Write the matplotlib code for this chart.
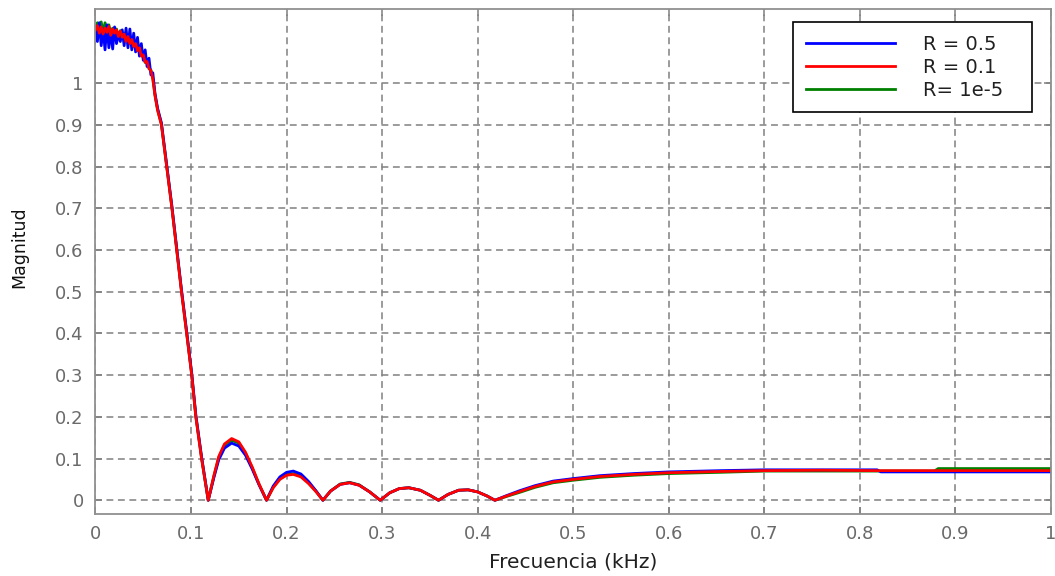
import matplotlib
matplotlib.use('Agg')
import matplotlib.pyplot as plt
from matplotlib.ticker import FuncFormatter

plt.rcParams['font.family'] = ['DejaVu Sans']

# frecuencias (kHz) - zona ruidosa + resto de la curva
freq_lo = [0.000, 0.002, 0.004, 0.006, 0.008, 0.010, 0.012, 0.014, 0.016, 0.018,
           0.020, 0.022, 0.024, 0.026, 0.028, 0.030, 0.032, 0.034, 0.036, 0.038,
           0.040, 0.042, 0.044, 0.046, 0.048, 0.050, 0.052, 0.054, 0.056, 0.058, 0.060]
freq_hi = [0.0623, 0.065, 0.069, 0.0745, 0.080, 0.085, 0.090, 0.0954, 0.1007, 0.105,
           0.111, 0.118, 0.124, 0.129, 0.135, 0.1425, 0.150, 0.157, 0.164, 0.171,
           0.179, 0.186, 0.193, 0.200, 0.207, 0.215, 0.223, 0.231, 0.238, 0.246,
           0.256, 0.266, 0.276, 0.287, 0.298, 0.308, 0.318, 0.328, 0.340, 0.350,
           0.359, 0.369, 0.380, 0.390, 0.400, 0.410, 0.418, 0.430, 0.444, 0.460,
           0.479, 0.500, 0.528, 0.563, 0.600, 0.654, 0.700, 0.760, 0.818, 0.822,
           0.878, 0.882, 0.940, 1.000]

# R = 0.5
mag_r05 = [1.135, 1.100, 1.145, 1.090, 1.130, 1.080, 1.140, 1.085, 1.125, 1.082,
           1.135, 1.095, 1.120, 1.100, 1.128, 1.090, 1.132, 1.085, 1.130, 1.080,
           1.120, 1.075, 1.110, 1.065, 1.095, 1.055, 1.080, 1.040, 1.060, 1.020, 1.025,
           0.975, 0.940, 0.905, 0.805, 0.705, 0.605, 0.505, 0.405, 0.305, 0.205,
           0.105, 0.000, 0.055, 0.097, 0.125, 0.137, 0.130, 0.108, 0.075, 0.038,
           0.000, 0.034, 0.056, 0.067, 0.070, 0.063, 0.045, 0.022, 0.000, 0.022,
           0.038, 0.042, 0.036, 0.020, 0.000, 0.018, 0.028, 0.030, 0.024, 0.012,
           0.000, 0.014, 0.024, 0.025, 0.020, 0.010, 0.000, 0.011, 0.023, 0.035,
           0.046, 0.052, 0.059, 0.064, 0.068, 0.071, 0.073, 0.073, 0.073, 0.068,
           0.068, 0.068, 0.068, 0.068]

# R = 0.1
mag_r01 = [1.128, 1.138, 1.120, 1.135, 1.118, 1.132, 1.122, 1.136, 1.115, 1.130,
           1.120, 1.128, 1.112, 1.125, 1.110, 1.118, 1.100, 1.112, 1.095, 1.105,
           1.088, 1.095, 1.078, 1.085, 1.065, 1.068, 1.050, 1.052, 1.035, 1.030, 1.010,
           0.970, 0.935, 0.900, 0.800, 0.700, 0.600, 0.500, 0.400, 0.300, 0.200,
           0.100, 0.000, 0.060, 0.105, 0.135, 0.148, 0.140, 0.115, 0.080, 0.040,
           0.000, 0.030, 0.050, 0.060, 0.062, 0.056, 0.040, 0.020, 0.000, 0.022,
           0.038, 0.042, 0.036, 0.020, 0.000, 0.018, 0.028, 0.030, 0.024, 0.012,
           0.000, 0.014, 0.024, 0.025, 0.020, 0.010, 0.000, 0.010, 0.021, 0.033,
           0.044, 0.050, 0.057, 0.062, 0.066, 0.069, 0.071, 0.072, 0.071, 0.071,
           0.071, 0.071, 0.071, 0.071]

# R = 1e-5
mag_r1e5 = [1.130, 1.145, 1.125, 1.147, 1.122, 1.145, 1.125, 1.140, 1.118, 1.132,
            1.120, 1.130, 1.112, 1.126, 1.110, 1.120, 1.100, 1.112, 1.095, 1.105,
            1.088, 1.096, 1.078, 1.086, 1.066, 1.070, 1.050, 1.054, 1.036, 1.032, 1.012,
            0.972, 0.937, 0.902, 0.802, 0.702, 0.602, 0.502, 0.402, 0.302, 0.202,
            0.102, 0.000, 0.058, 0.102, 0.132, 0.144, 0.137, 0.113, 0.078, 0.039,
            0.000, 0.031, 0.052, 0.062, 0.064, 0.058, 0.042, 0.021, 0.000, 0.022,
            0.039, 0.043, 0.037, 0.020, 0.000, 0.018, 0.028, 0.030, 0.024, 0.012,
            0.000, 0.014, 0.024, 0.025, 0.020, 0.010, 0.000, 0.009, 0.019, 0.031,
            0.042, 0.048, 0.055, 0.060, 0.064, 0.067, 0.070, 0.070, 0.070, 0.070,
            0.070, 0.076, 0.076, 0.076]

labels = ['R = 0.5', 'R = 0.1', 'R= 1e-5']
x_ticks = [0, 0.1, 0.2, 0.3, 0.4, 0.5, 0.6, 0.7, 0.8, 0.9, 1.0]
y_ticks = [0, 0.1, 0.2, 0.3, 0.4, 0.5, 0.6, 0.7, 0.8, 0.9, 1.0]

freq = freq_lo + freq_hi

fig = plt.figure(figsize=(10.55, 5.76), dpi=100)
ax = fig.add_axes([0.0905, 0.1076, 0.9057, 0.8768])

# orden de dibujo: verde, azul, rojo (rojo encima)
l_g, = ax.plot(freq, mag_r1e5, color='#008000', lw=2)
l_b, = ax.plot(freq, mag_r05, color='#0000ff', lw=2)
l_r, = ax.plot(freq, mag_r01, color='#ff0000', lw=2)

ax.set_xlim(0, 1)
ax.set_ylim(-0.033, 1.178)
ax.set_xticks(x_ticks)
ax.set_yticks(y_ticks)
fmt = FuncFormatter(lambda v, p: '%g' % round(v, 2))
ax.xaxis.set_major_formatter(fmt)
ax.yaxis.set_major_formatter(fmt)

gray = '#808080'
ax.grid(True, color=gray, linestyle=(0, (4.5, 3)), linewidth=1.1)
ax.tick_params(direction='in', length=5, width=1.1, color=gray, labelcolor='#6a6a6a',
               labelsize=13, top=True, right=True)
ax.tick_params(axis='y', pad=8.5)
ax.tick_params(axis='x', pad=8)
for s in ax.spines.values():
    s.set_color('#909090')
    s.set_linewidth(1.3)

ax.set_xlabel('Frecuencia (kHz)', fontsize=14.5, color='#202020', labelpad=7)
ax.set_ylabel('Magnitud', fontsize=12.5, color='#101010')
ax.yaxis.set_label_coords(-0.0706, 0.529)

leg = ax.legend([l_b, l_r, l_g], labels, loc='upper left', mode='expand',
                bbox_to_anchor=(0.730, 0.0, 0.250, 0.974), borderaxespad=0,
                fontsize=14, handlelength=4.6, handletextpad=1.45, labelspacing=0.2,
                borderpad=0.65, fancybox=False, framealpha=1)
leg.get_frame().set_edgecolor('black')
leg.get_frame().set_linewidth(1.2)
for t in leg.get_texts():
    t.set_color('#202020')

fig.savefig('out.png', dpi=100)
